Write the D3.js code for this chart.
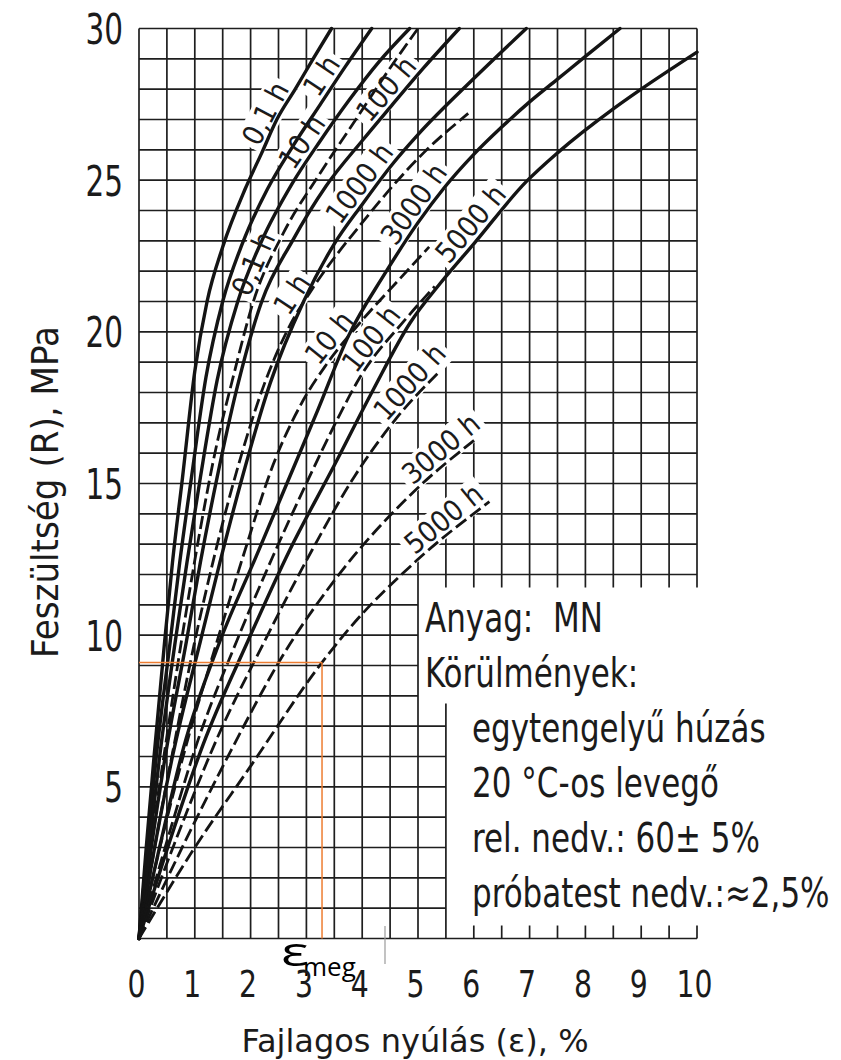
<!DOCTYPE html>
<html><head><meta charset="utf-8">
<script src="https://cdn.jsdelivr.net/npm/d3@7"></script>
<style>
html,body{margin:0;padding:0;background:#fff;}
svg{display:block;}
.tech{font-family:'DejaVu Sans Condensed','DejaVu Sans',sans-serif;font-stretch:condensed;fill:#1b1b1b;}
</style></head><body>
<svg id="chart" width="841" height="1060"></svg>
<script>
// Isochronous stress–strain curves, points are [strain %, stress MPa]
const durations = ["0,1 h","1 h","10 h","100 h","1000 h","3000 h","5000 h"];

const solid_01h   = [[0,0],[0.13,3],[0.27,6],[0.46,9.8],[0.6,12.4],[0.78,15.2],[1.0,18.7],[1.22,21],[1.5,22.8],[1.9,24.7],[2.2,25.9],[2.47,27],[2.8,28],[3.12,29],[3.45,30]];
const solid_1h    = [[0,0],[0.15,3],[0.31,6],[0.56,9.8],[0.73,12.4],[0.94,15.2],[1.2,18.5],[1.5,21],[1.85,22.9],[2.3,24.7],[2.75,26.1],[3.25,27.5],[3.7,28.75],[4.17,30]];
const solid_10h   = [[0,0],[0.18,3],[0.37,6],[0.65,9.8],[0.86,12.4],[1.1,15.2],[1.4,18.4],[1.77,21],[2.2,23],[2.75,24.9],[3.25,26.3],[3.75,27.6],[4.3,28.9],[4.85,30]];
const solid_100h  = [[0,0],[0.22,3],[0.47,6],[0.85,9.8],[1.1,12.4],[1.4,15.2],[1.75,18.1],[2.2,21],[2.75,23],[3.35,24.8],[4.0,26.3],[4.5,27.4],[5.1,28.7],[5.74,30]];
const solid_1000h = [[0,0],[0.28,3],[0.6,6],[1.1,9.8],[1.45,12.4],[1.85,15.2],[2.35,18.3],[2.95,21],[3.5,22.9],[4.0,24.2],[4.53,25.5],[5.0,26.5],[6.0,28.35],[6.94,30]];
const solid_3000h = [[0,0],[0.38,3.1],[0.8,6.3],[1.45,9.8],[2.1,12.6],[2.65,15.0],[3.2,17.4],[3.75,19.85],[4.4,21.9],[5.0,23.6],[5.47,24.75],[6.0,25.85],[6.5,26.75],[7.0,27.58],[7.5,28.33],[8.0,29.08],[8.62,30]];
const solid_5000h = [[0,0],[0.55,3.2],[1.15,6.4],[1.95,9.8],[2.7,12.8],[3.5,15.6],[4.2,18.1],[4.86,20.3],[5.4,21.6],[6.0,22.9],[6.94,24.95],[7.5,25.9],[8.5,27.35],[9.0,28.0],[10,29.22]];

const dashed_01h   = [[0,0],[0.22,3.2],[0.47,6.3],[0.76,9.8],[1.07,13.2],[1.36,16],[1.7,18.6],[2.05,21],[2.6,23.3],[3.2,25.1],[3.85,26.9],[4.5,28.7],[5.0,30]];
const dashed_1h    = [[0,0],[0.3,3.2],[0.62,6.3],[1.0,9.8],[1.35,12.6],[1.75,15.4],[2.25,18.3],[2.7,20.2],[3.1,21.4],[4.0,23.6],[5.1,25.9],[5.9,27.2]];
const dashed_10h   = [[0,0],[0.4,3.2],[0.85,6.4],[1.4,9.8],[1.9,12.8],[2.4,15.6],[2.9,17.6],[3.35,18.9],[3.96,20.3],[4.6,21.6],[5.2,22.8]];
const dashed_100h  = [[0,0],[0.5,3.2],[1.05,6.5],[1.75,9.8],[2.4,12.6],[3.05,15.2],[3.55,17.1],[3.96,18.5],[4.77,20.4],[5.3,21.5]];
const dashed_1000h = [[0,0],[0.65,3.2],[1.4,6.6],[2.25,9.8],[3.1,12.8],[3.85,15.2],[4.59,17.1],[5.39,18.7]];
const dashed_3000h = [[0,0],[0.8,3.1],[1.65,6.2],[2.6,9.4],[3.5,11.8],[4.85,14.6],[6.06,16.5]];
const dashed_5000h = [[0,0],[1.0,3.0],[1.97,5.6],[3.28,9.1],[3.76,10.2],[5.0,12.5],[6.28,14.4]];

// stress at which each curve label begins
const solidLabelAt  = [26.0, 27.6, 25.2, 26.75, 23.4, 22.7, 22.1];
const dashedLabelAt = [21.05, 20.4, 18.75, 18.5, 16.9, 14.8, 12.5];

const epsMeg = 3.28, stressMeg = 9.1;

const xTicks = [0,1,2,3,4,5,6,7,8,9,10];
const yTicks = [5,10,15,20,25,30];

const infoHead = ["Anyag:  MN", "Körülmények:"];
const infoLines = ["egytengelyű húzás", "20 °C-os levegő", "rel. nedv.: 60± 5%", "próbatest nedv.:≈2,5%"];

const solidSets  = [solid_01h, solid_1h, solid_10h, solid_100h, solid_1000h, solid_3000h, solid_5000h];
const dashedSets = [dashed_01h, dashed_1h, dashed_10h, dashed_100h, dashed_1000h, dashed_3000h, dashed_5000h];

const svg = d3.select("#chart");
const x = d3.scaleLinear().domain([0, 10]).range([139, 697]);
const y = d3.scaleLinear().domain([0, 30]).range([938.5, 28.5]);

const gGrid  = svg.append("g");
const gKnock = svg.append("g");
const gCurve = svg.append("g");
const gLab   = svg.append("g");
const gText  = svg.append("g");

// ---- grid: full for strain <= 5, upper block only above 12 MPa on the right
const tickLen = 13 / (y(0) - y(1)); // short tick length in MPa units
const vSegs = [];
d3.range(0, 10.001, 0.5).forEach(v => {
  if (v <= 5) vSegs.push([v, 0, 30]);
  else if (v === 5.5) { vSegs.push([v, 0, 7.75]); vSegs.push([v, 12 - tickLen, 30]); }
  else { vSegs.push([v, 12 - tickLen, 30]); vSegs.push([v, 0, tickLen]); }
});
const hSegs = [];
d3.range(0, 30.001, 1).forEach(h => {
  if (h >= 12 || h === 0) hSegs.push([h, 0, 10]);
  else if (h <= 7) hSegs.push([h, 0, 5.5]);
  else hSegs.push([h, 0, 5]);
});
gGrid.selectAll("line.v").data(vSegs).join("line").attr("class", "v")
  .attr("x1", d => x(d[0])).attr("x2", d => x(d[0]))
  .attr("y1", d => y(d[1])).attr("y2", d => y(d[2]))
  .attr("stroke", "#1e1e1e").attr("stroke-width", 1.7);
gGrid.selectAll("line.h").data(hSegs).join("line").attr("class", "h")
  .attr("y1", d => y(d[0])).attr("y2", d => y(d[0]))
  .attr("x1", d => x(d[1])).attr("x2", d => x(d[2]))
  .attr("stroke", "#1e1e1e").attr("stroke-width", 1.7);

// ---- curves
const line = d3.line().x(d => x(d[0])).y(d => y(d[1])).curve(d3.curveMonotoneX);
const solidPaths = solidSets.map(pts => gCurve.append("path").attr("d", line(pts))
  .attr("fill", "none").attr("stroke", "#141414").attr("stroke-width", 3.4)
  .attr("stroke-linecap", "round").node());
const dashedPaths = dashedSets.map(pts => gCurve.append("path").attr("d", line(pts))
  .attr("fill", "none").attr("stroke", "#141414").attr("stroke-width", 2.8)
  .attr("stroke-dasharray", "13,5").node());

// ---- labels written along their curves, with the grid cleared behind them
function labelOnPath(node, stress, txt, off) {
  const total = node.getTotalLength();
  const py = y(stress);
  let lo = 0, hi = total;
  for (let i = 0; i < 40; i++) {
    const mid = (lo + hi) / 2;
    if (node.getPointAtLength(mid).y > py) lo = mid; else hi = mid;
  }
  const p0 = node.getPointAtLength(lo);
  const p1 = node.getPointAtLength(Math.min(total, lo + 70));
  const ang = Math.atan2(p1.y - p0.y, p1.x - p0.x);
  const nx = Math.sin(ang), ny = -Math.cos(ang);
  const tf = `translate(${p0.x + nx * off},${p0.y + ny * off}) rotate(${ang * 180 / Math.PI})`;
  const t = gLab.append("text").attr("class", "tech").attr("transform", tf)
    .attr("font-size", 29).text(txt);
  const bb = t.node().getBBox();
  gKnock.append("rect").attr("transform", tf)
    .attr("x", bb.x - 4).attr("y", bb.y + 2).attr("width", bb.width + 8).attr("height", bb.height - 2)
    .attr("fill", "#fff");
}
solidPaths.forEach((n, i) => labelOnPath(n, solidLabelAt[i], durations[i], 5));
dashedPaths.forEach((n, i) => labelOnPath(n, dashedLabelAt[i], durations[i], 5));

// ---- read-off lines
const orange = "#ED7D31";
svg.append("line").attr("x1", x(0)).attr("x2", x(epsMeg)).attr("y1", y(stressMeg)).attr("y2", y(stressMeg))
  .attr("stroke", orange).attr("stroke-width", 1.5);
svg.append("line").attr("x1", x(epsMeg)).attr("x2", x(epsMeg)).attr("y1", y(stressMeg)).attr("y2", y(0))
  .attr("stroke", orange).attr("stroke-width", 1.5);

// faint pencil stroke below the axis between 4 and 5 %
svg.append("line").attr("x1", 385).attr("x2", 385).attr("y1", 926).attr("y2", 964)
  .attr("stroke", "#9a9a9a").attr("stroke-width", 1.2);

// ---- axes
const ay = svg.append("g").attr("transform", "translate(123,0)")
  .call(d3.axisLeft(y).tickValues(yTicks).tickSize(0).tickPadding(0));
ay.select(".domain").remove();
ay.selectAll("text").attr("class", "tech").attr("font-size", 42).attr("fill", "#1b1b1b")
  .attr("transform", "scale(0.78,1)").attr("dy", "0.36em");

const ax = svg.append("g").attr("transform", "translate(-3,997)")
  .call(d3.axisBottom(x).tickValues(xTicks).tickSize(0).tickPadding(0).tickFormat(d3.format("d")));
ax.select(".domain").remove();
ax.selectAll("text").attr("class", "tech").attr("font-size", 37).attr("fill", "#1b1b1b")
  .attr("y", 0).attr("dy", null).attr("transform", "scale(0.85,1)");

gText.append("text").attr("class", "tech").attr("font-size", 38).attr("text-anchor", "middle")
  .attr("transform", "translate(58,492) rotate(-90)").text("Feszültség (R), MPa");
gText.append("text").attr("font-family", "'DejaVu Sans',sans-serif").attr("fill", "#1b1b1b")
  .attr("font-size", 32).attr("text-anchor", "middle")
  .attr("transform", "translate(415,1052)").text("Fajlagos nyúlás (ε), %");

// ---- material / test conditions block
infoHead.forEach((s, i) => gText.append("text").attr("class", "tech").attr("font-size", 41)
  .attr("xml:space", "preserve").style("white-space", "pre")
  .attr("transform", `translate(425,${632 + i * 55}) scale(0.84,1)`).text(s));
infoLines.forEach((s, i) => gText.append("text").attr("class", "tech").attr("font-size", 41)
  .attr("transform", `translate(472,${742 + i * 55}) scale(0.84,1)`).text(s));

// ---- epsilon_meg marker
gText.append("text").attr("font-family", "'Open Sans',sans-serif").attr("font-size", 40).attr("fill", "#000")
  .attr("transform", "translate(281,966) scale(1.45,1)").text("ε");
gText.append("text").attr("font-family", "'Open Sans',sans-serif").attr("font-size", 26).attr("fill", "#000")
  .attr("transform", "translate(303,976)").text("meg");
</script>
</body></html>
